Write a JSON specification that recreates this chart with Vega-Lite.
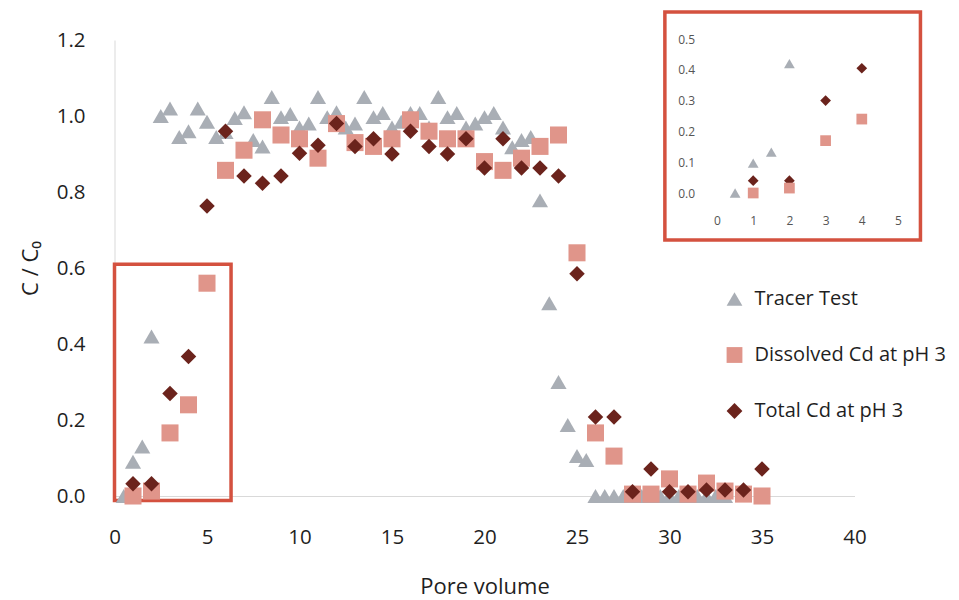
{
  "$schema": "https://vega.github.io/schema/vega-lite/v6.json",
  "width": 740,
  "height": 456,
  "autosize": {"type": "none"},
  "padding": {"left": 114.5, "top": 40, "right": 104.5, "bottom": 104},
  "background": "white",
  "config": {
    "font": "Open Sans",
    "view": {"stroke": null},
    "axis": {"grid": false, "ticks": false, "titleFontWeight": "normal", "labelFlush": false, "labelOverlap": false}
  },
  "datasets": {
    "breakthrough": [
      {"pv": 0.5, "c": 0.0, "series": "Tracer Test"},
      {"pv": 1, "c": 0.09, "series": "Tracer Test"},
      {"pv": 1.5, "c": 0.13, "series": "Tracer Test"},
      {"pv": 2, "c": 0.42, "series": "Tracer Test"},
      {"pv": 2.5, "c": 1.0, "series": "Tracer Test"},
      {"pv": 3, "c": 1.02, "series": "Tracer Test"},
      {"pv": 3.5, "c": 0.945, "series": "Tracer Test"},
      {"pv": 4, "c": 0.96, "series": "Tracer Test"},
      {"pv": 4.5, "c": 1.02, "series": "Tracer Test"},
      {"pv": 5, "c": 0.985, "series": "Tracer Test"},
      {"pv": 5.5, "c": 0.945, "series": "Tracer Test"},
      {"pv": 6, "c": 0.958, "series": "Tracer Test"},
      {"pv": 6.5, "c": 0.995, "series": "Tracer Test"},
      {"pv": 7, "c": 1.01, "series": "Tracer Test"},
      {"pv": 7.5, "c": 0.937, "series": "Tracer Test"},
      {"pv": 8, "c": 0.92, "series": "Tracer Test"},
      {"pv": 8.5, "c": 1.05, "series": "Tracer Test"},
      {"pv": 9, "c": 0.997, "series": "Tracer Test"},
      {"pv": 9.5, "c": 1.005, "series": "Tracer Test"},
      {"pv": 10, "c": 0.97, "series": "Tracer Test"},
      {"pv": 10.5, "c": 0.98, "series": "Tracer Test"},
      {"pv": 11, "c": 1.05, "series": "Tracer Test"},
      {"pv": 11.5, "c": 0.997, "series": "Tracer Test"},
      {"pv": 12, "c": 1.01, "series": "Tracer Test"},
      {"pv": 12.5, "c": 0.97, "series": "Tracer Test"},
      {"pv": 13, "c": 0.98, "series": "Tracer Test"},
      {"pv": 13.5, "c": 1.05, "series": "Tracer Test"},
      {"pv": 14, "c": 0.997, "series": "Tracer Test"},
      {"pv": 14.5, "c": 1.008, "series": "Tracer Test"},
      {"pv": 15, "c": 0.97, "series": "Tracer Test"},
      {"pv": 15.5, "c": 0.985, "series": "Tracer Test"},
      {"pv": 16, "c": 1.008, "series": "Tracer Test"},
      {"pv": 16.5, "c": 1.008, "series": "Tracer Test"},
      {"pv": 17, "c": 0.97, "series": "Tracer Test"},
      {"pv": 17.5, "c": 1.05, "series": "Tracer Test"},
      {"pv": 18, "c": 0.997, "series": "Tracer Test"},
      {"pv": 18.5, "c": 1.008, "series": "Tracer Test"},
      {"pv": 19, "c": 0.97, "series": "Tracer Test"},
      {"pv": 19.5, "c": 0.98, "series": "Tracer Test"},
      {"pv": 20, "c": 0.997, "series": "Tracer Test"},
      {"pv": 20.5, "c": 1.008, "series": "Tracer Test"},
      {"pv": 21, "c": 0.97, "series": "Tracer Test"},
      {"pv": 21.5, "c": 0.918, "series": "Tracer Test"},
      {"pv": 22, "c": 0.937, "series": "Tracer Test"},
      {"pv": 22.5, "c": 0.945, "series": "Tracer Test"},
      {"pv": 23, "c": 0.778, "series": "Tracer Test"},
      {"pv": 23.5, "c": 0.507, "series": "Tracer Test"},
      {"pv": 24, "c": 0.3, "series": "Tracer Test"},
      {"pv": 24.5, "c": 0.187, "series": "Tracer Test"},
      {"pv": 25, "c": 0.105, "series": "Tracer Test"},
      {"pv": 25.5, "c": 0.095, "series": "Tracer Test"},
      {"pv": 26, "c": 0.0, "series": "Tracer Test"},
      {"pv": 26.5, "c": 0.0, "series": "Tracer Test"},
      {"pv": 27, "c": 0.0, "series": "Tracer Test"},
      {"pv": 27.5, "c": 0.0, "series": "Tracer Test"},
      {"pv": 28, "c": 0.0, "series": "Tracer Test"},
      {"pv": 28.5, "c": 0.0, "series": "Tracer Test"},
      {"pv": 29, "c": 0.0, "series": "Tracer Test"},
      {"pv": 29.5, "c": 0.0, "series": "Tracer Test"},
      {"pv": 30, "c": 0.0, "series": "Tracer Test"},
      {"pv": 30.5, "c": 0.0, "series": "Tracer Test"},
      {"pv": 31, "c": 0.0, "series": "Tracer Test"},
      {"pv": 31.5, "c": 0.0, "series": "Tracer Test"},
      {"pv": 32, "c": 0.0, "series": "Tracer Test"},
      {"pv": 32.5, "c": 0.0, "series": "Tracer Test"},
      {"pv": 33, "c": 0.0, "series": "Tracer Test"},
      {"pv": 1, "c": 0.0, "series": "Dissolved Cd at pH 3"},
      {"pv": 2, "c": 0.013, "series": "Dissolved Cd at pH 3"},
      {"pv": 3, "c": 0.166, "series": "Dissolved Cd at pH 3"},
      {"pv": 4, "c": 0.24, "series": "Dissolved Cd at pH 3"},
      {"pv": 5, "c": 0.56, "series": "Dissolved Cd at pH 3"},
      {"pv": 6, "c": 0.857, "series": "Dissolved Cd at pH 3"},
      {"pv": 7, "c": 0.91, "series": "Dissolved Cd at pH 3"},
      {"pv": 8, "c": 0.99, "series": "Dissolved Cd at pH 3"},
      {"pv": 9, "c": 0.95, "series": "Dissolved Cd at pH 3"},
      {"pv": 10, "c": 0.94, "series": "Dissolved Cd at pH 3"},
      {"pv": 11, "c": 0.889, "series": "Dissolved Cd at pH 3"},
      {"pv": 12, "c": 0.98, "series": "Dissolved Cd at pH 3"},
      {"pv": 13, "c": 0.93, "series": "Dissolved Cd at pH 3"},
      {"pv": 14, "c": 0.92, "series": "Dissolved Cd at pH 3"},
      {"pv": 15, "c": 0.94, "series": "Dissolved Cd at pH 3"},
      {"pv": 16, "c": 0.99, "series": "Dissolved Cd at pH 3"},
      {"pv": 17, "c": 0.96, "series": "Dissolved Cd at pH 3"},
      {"pv": 18, "c": 0.94, "series": "Dissolved Cd at pH 3"},
      {"pv": 19, "c": 0.94, "series": "Dissolved Cd at pH 3"},
      {"pv": 20, "c": 0.88, "series": "Dissolved Cd at pH 3"},
      {"pv": 21, "c": 0.857, "series": "Dissolved Cd at pH 3"},
      {"pv": 22, "c": 0.889, "series": "Dissolved Cd at pH 3"},
      {"pv": 23, "c": 0.92, "series": "Dissolved Cd at pH 3"},
      {"pv": 24, "c": 0.95, "series": "Dissolved Cd at pH 3"},
      {"pv": 25, "c": 0.64, "series": "Dissolved Cd at pH 3"},
      {"pv": 26, "c": 0.166, "series": "Dissolved Cd at pH 3"},
      {"pv": 27, "c": 0.105, "series": "Dissolved Cd at pH 3"},
      {"pv": 28, "c": 0.005, "series": "Dissolved Cd at pH 3"},
      {"pv": 29, "c": 0.005, "series": "Dissolved Cd at pH 3"},
      {"pv": 30, "c": 0.045, "series": "Dissolved Cd at pH 3"},
      {"pv": 31, "c": 0.005, "series": "Dissolved Cd at pH 3"},
      {"pv": 32, "c": 0.034, "series": "Dissolved Cd at pH 3"},
      {"pv": 33, "c": 0.013, "series": "Dissolved Cd at pH 3"},
      {"pv": 34, "c": 0.005, "series": "Dissolved Cd at pH 3"},
      {"pv": 35, "c": 0.0, "series": "Dissolved Cd at pH 3"},
      {"pv": 1, "c": 0.032, "series": "Total Cd at pH 3"},
      {"pv": 2, "c": 0.032, "series": "Total Cd at pH 3"},
      {"pv": 3, "c": 0.27, "series": "Total Cd at pH 3"},
      {"pv": 4, "c": 0.367, "series": "Total Cd at pH 3"},
      {"pv": 5, "c": 0.763, "series": "Total Cd at pH 3"},
      {"pv": 6, "c": 0.96, "series": "Total Cd at pH 3"},
      {"pv": 7, "c": 0.842, "series": "Total Cd at pH 3"},
      {"pv": 8, "c": 0.823, "series": "Total Cd at pH 3"},
      {"pv": 9, "c": 0.842, "series": "Total Cd at pH 3"},
      {"pv": 10, "c": 0.902, "series": "Total Cd at pH 3"},
      {"pv": 11, "c": 0.923, "series": "Total Cd at pH 3"},
      {"pv": 12, "c": 0.98, "series": "Total Cd at pH 3"},
      {"pv": 13, "c": 0.92, "series": "Total Cd at pH 3"},
      {"pv": 14, "c": 0.94, "series": "Total Cd at pH 3"},
      {"pv": 15, "c": 0.9, "series": "Total Cd at pH 3"},
      {"pv": 16, "c": 0.96, "series": "Total Cd at pH 3"},
      {"pv": 17, "c": 0.92, "series": "Total Cd at pH 3"},
      {"pv": 18, "c": 0.9, "series": "Total Cd at pH 3"},
      {"pv": 19, "c": 0.94, "series": "Total Cd at pH 3"},
      {"pv": 20, "c": 0.863, "series": "Total Cd at pH 3"},
      {"pv": 21, "c": 0.94, "series": "Total Cd at pH 3"},
      {"pv": 22, "c": 0.863, "series": "Total Cd at pH 3"},
      {"pv": 23, "c": 0.863, "series": "Total Cd at pH 3"},
      {"pv": 24, "c": 0.842, "series": "Total Cd at pH 3"},
      {"pv": 25, "c": 0.585, "series": "Total Cd at pH 3"},
      {"pv": 26, "c": 0.208, "series": "Total Cd at pH 3"},
      {"pv": 27, "c": 0.208, "series": "Total Cd at pH 3"},
      {"pv": 28, "c": 0.011, "series": "Total Cd at pH 3"},
      {"pv": 29, "c": 0.071, "series": "Total Cd at pH 3"},
      {"pv": 30, "c": 0.011, "series": "Total Cd at pH 3"},
      {"pv": 31, "c": 0.011, "series": "Total Cd at pH 3"},
      {"pv": 32, "c": 0.016, "series": "Total Cd at pH 3"},
      {"pv": 33, "c": 0.016, "series": "Total Cd at pH 3"},
      {"pv": 34, "c": 0.016, "series": "Total Cd at pH 3"},
      {"pv": 35, "c": 0.071, "series": "Total Cd at pH 3"}
    ],
    "earlyDetail": [
      {"pv": 0.5, "c": 0.0, "series": "Tracer Test"},
      {"pv": 1, "c": 0.097, "series": "Tracer Test"},
      {"pv": 1.5, "c": 0.133, "series": "Tracer Test"},
      {"pv": 2, "c": 0.42, "series": "Tracer Test"},
      {"pv": 1, "c": 0.0, "series": "Dissolved Cd at pH 3"},
      {"pv": 2, "c": 0.016, "series": "Dissolved Cd at pH 3"},
      {"pv": 3, "c": 0.17, "series": "Dissolved Cd at pH 3"},
      {"pv": 4, "c": 0.24, "series": "Dissolved Cd at pH 3"},
      {"pv": 1, "c": 0.04, "series": "Total Cd at pH 3"},
      {"pv": 2, "c": 0.04, "series": "Total Cd at pH 3"},
      {"pv": 3, "c": 0.3, "series": "Total Cd at pH 3"},
      {"pv": 4, "c": 0.405, "series": "Total Cd at pH 3"}
    ],
    "earlyWindow": [{"pv0": 0, "pv1": 6.3, "c0": -0.012, "c1": 0.61}],
    "detailFrame": [{"pv0": -1.44, "pv1": 5.62, "c0": -0.153, "c1": 0.588}]
  },
  "layer": [
    {
      "layer": [
        {
          "data": {"name": "earlyWindow"},
          "mark": {"type": "rect", "fill": null, "stroke": "#D4513F", "strokeWidth": 3.5},
          "encoding": {
            "x": {"field": "pv0", "type": "quantitative"},
            "x2": {"field": "pv1"},
            "y": {"field": "c0", "type": "quantitative"},
            "y2": {"field": "c1"}
          }
        },
        {
          "data": {"name": "breakthrough"},
          "transform": [{"filter": "datum.series === 'Tracer Test'"}],
          "mark": {"type": "point", "filled": true, "opacity": 1, "size": 260},
          "encoding": {
            "x": {"field": "pv", "type": "quantitative"},
            "y": {"field": "c", "type": "quantitative"},
            "color": {"field": "series", "type": "nominal"},
            "shape": {"field": "series", "type": "nominal"}
          }
        },
        {
          "data": {"name": "breakthrough"},
          "transform": [{"filter": "datum.series === 'Dissolved Cd at pH 3'"}],
          "mark": {"type": "point", "filled": true, "opacity": 1, "size": 290},
          "encoding": {
            "x": {"field": "pv", "type": "quantitative"},
            "y": {"field": "c", "type": "quantitative"},
            "color": {"field": "series", "type": "nominal"},
            "shape": {"field": "series", "type": "nominal"}
          }
        },
        {
          "data": {"name": "breakthrough"},
          "transform": [{"filter": "datum.series === 'Total Cd at pH 3'"}],
          "mark": {"type": "point", "filled": true, "opacity": 1, "size": 240},
          "encoding": {
            "x": {
              "field": "pv",
              "type": "quantitative",
              "scale": {"domain": [0, 40], "nice": false, "zero": false},
              "axis": {
                "orient": "bottom",
                "title": "Pore volume",
                "values": [0, 5, 10, 15, 20, 25, 30, 35, 40],
                "domainColor": "#D9D9D9",
                "labelFontSize": 20.5,
                "labelColor": "#1f1f1f",
                "labelPadding": 31.5,
                "titleFontSize": 22,
                "titleColor": "#1f1f1f",
                "titlePadding": 28.5
              }
            },
            "y": {
              "field": "c",
              "type": "quantitative",
              "scale": {"domain": [0, 1.2], "nice": false, "zero": false},
              "axis": {
                "orient": "left",
                "title": "C / C₀",
                "values": [0, 0.2, 0.4, 0.6, 0.8, 1.0, 1.2],
                "format": ".1f",
                "domainColor": "#D9D9D9",
                "labelFontSize": 20.5,
                "labelColor": "#1f1f1f",
                "labelPadding": 29.5,
                "titleFontSize": 22,
                "titleColor": "#1f1f1f",
                "titlePadding": 14
              }
            },
            "color": {
              "field": "series",
              "type": "nominal",
              "scale": {
                "domain": ["Tracer Test", "Dissolved Cd at pH 3", "Total Cd at pH 3"],
                "range": ["#A9AEB5", "#E0958A", "#6B231C"]
              },
              "legend": {
                "title": null,
                "orient": "none",
                "legendX": 610,
                "legendY": 249,
                "padding": 0,
                "symbolSize": 250,
                "symbolStrokeWidth": 0,
                "labelFontSize": 20,
                "labelColor": "#1f1f1f",
                "labelOffset": 10,
                "labelLimit": 400,
                "rowPadding": 36
              }
            },
            "shape": {
              "field": "series",
              "type": "nominal",
              "scale": {
                "domain": ["Tracer Test", "Dissolved Cd at pH 3", "Total Cd at pH 3"],
                "range": ["triangle-up", "square", "diamond"]
              },
              "legend": {
                "title": null,
                "orient": "none",
                "legendX": 610,
                "legendY": 249,
                "padding": 0,
                "symbolSize": 250,
                "symbolStrokeWidth": 0,
                "labelFontSize": 20,
                "labelColor": "#1f1f1f",
                "labelOffset": 10,
                "labelLimit": 400,
                "rowPadding": 36
              }
            }
          }
        }
      ]
    },
    {
      "layer": [
        {
          "data": {"name": "detailFrame"},
          "mark": {"type": "rect", "fill": null, "stroke": "#D4513F", "strokeWidth": 3.5},
          "encoding": {
            "x": {"field": "pv0", "type": "quantitative"},
            "x2": {"field": "pv1"},
            "y": {"field": "c0", "type": "quantitative"},
            "y2": {"field": "c1"}
          }
        },
        {
          "data": {"name": "earlyDetail"},
          "mark": {"type": "point", "filled": true, "opacity": 1, "size": 115},
          "encoding": {
            "x": {
              "field": "pv",
              "type": "quantitative",
              "scale": {"domain": [0, 5], "range": [602.5, 783.5], "nice": false, "zero": false},
              "axis": {
                "orient": "bottom",
                "offset": -285,
                "title": null,
                "domain": false,
                "values": [0, 1, 2, 3, 4, 5],
                "format": "d",
                "labelFontSize": 12,
                "labelColor": "#555555",
                "labelPadding": 4
              }
            },
            "y": {
              "field": "c",
              "type": "quantitative",
              "scale": {"domain": [0, 0.5], "range": [153, -1], "nice": false, "zero": false},
              "axis": {
                "orient": "left",
                "offset": -584,
                "title": null,
                "domain": false,
                "values": [0, 0.1, 0.2, 0.3, 0.4, 0.5],
                "format": ".1f",
                "labelFontSize": 12,
                "labelColor": "#555555",
                "labelPadding": 4
              }
            },
            "color": {"field": "series", "type": "nominal"},
            "shape": {"field": "series", "type": "nominal"},
            "order": {"field": "series", "sort": "descending"}
          }
        }
      ]
    }
  ],
  "resolve": {"scale": {"x": "independent", "y": "independent"}, "axis": {"x": "independent", "y": "independent"}}
}
